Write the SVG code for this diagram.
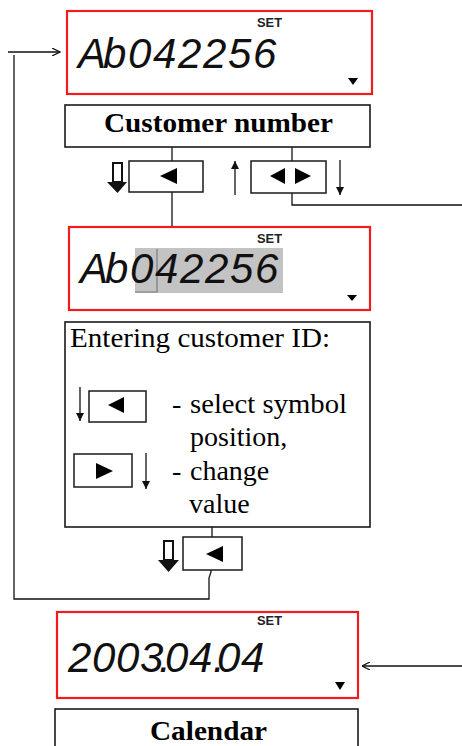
<svg xmlns="http://www.w3.org/2000/svg" width="462" height="746" viewBox="0 0 462 746">
<style>
.lcd{fill:#fff;stroke:#f21c1c;stroke-width:2.2}
.box{fill:#fff;stroke:#1a1a1a;stroke-width:1.6}
.btn{fill:#fff;stroke:#1a1a1a;stroke-width:1.5}
.ln{fill:none;stroke:#111;stroke-width:1.3}
.tri{fill:#000}
.set{font-family:"Liberation Sans",Arial,sans-serif;font-weight:bold;font-size:12px;fill:#222}
.dig{font-family:"Liberation Sans",Arial,sans-serif;font-style:italic;font-size:42px;fill:#111}
.ser{font-family:"Liberation Serif","Times New Roman",serif;font-size:28px;fill:#000}
.bold{font-weight:bold}
</style>
<defs>
<marker id="ah" viewBox="0 0 10 10" refX="10" refY="5" markerWidth="9" markerHeight="8" markerUnits="userSpaceOnUse" orient="auto"><path d="M0,0 L10,5 L0,10 z" fill="#111"/></marker>
<marker id="oh" viewBox="0 0 10 10" refX="10" refY="5" markerWidth="9" markerHeight="8" markerUnits="userSpaceOnUse" orient="auto"><path d="M0,0 L10,5 L0,10" fill="none" stroke="#111" stroke-width="1.5"/></marker>
</defs>

<g id="connectors">
<path class="ln" d="M8,52 H60" marker-end="url(#oh)"/>
<path class="ln" d="M14,55 V599 H209 V578 L211,572 V570"/>
<path class="ln" d="M172,147 V161"/>
<path class="ln" d="M292,147 V161"/>
<path class="ln" d="M172,192 V227"/>
<path class="ln" d="M292,193 V205 H462"/>
<path class="ln" d="M235,195 V161" marker-end="url(#ah)"/>
<path class="ln" d="M340,160 V195" marker-end="url(#ah)"/>
<path class="ln" d="M212,527 V537"/>
<path class="ln" d="M462,666 H362" marker-end="url(#oh)"/>
<path d="M113,163 H122 V182 H113 Z" fill="#fff" stroke="#111" stroke-width="2"/>
<path d="M107,182 H127 L117.5,193 Z" fill="#111"/>
<path d="M164,541 H173 V560 H164 Z" fill="#fff" stroke="#111" stroke-width="2"/>
<path d="M158,560 H179 L168.5,572 Z" fill="#111"/>
</g>

<g id="lcd1">
<rect class="lcd" x="67" y="11" width="305" height="83"/>
<text class="set" x="257" y="27" textLength="25" lengthAdjust="spacingAndGlyphs">SET</text>
<text class="dig" x="78 103 128 153 178 203 228 253" y="68">Ab042256</text>
<path class="tri" d="M348,78 H358 L353,85 Z"/>
</g>

<g id="customer-number">
<rect class="box" x="65" y="105" width="305" height="42"/>
<text class="ser bold" x="104" y="132" textLength="229" lengthAdjust="spacingAndGlyphs">Customer number</text>
</g>

<g id="btn-left">
<rect class="btn" x="129" y="161" width="74" height="31"/>
<path class="tri" d="M160,176 L177,168 V184 Z"/>
</g>

<g id="btn-leftright">
<rect class="btn" x="251" y="161" width="75" height="32"/>
<path class="tri" d="M270,176 L285,168 V184 Z"/>
<path class="tri" d="M311,176 L295,168 V184 Z"/>
</g>

<g id="lcd2">
<rect class="lcd" x="69" y="227" width="301" height="83"/>
<rect x="135" y="248" width="148" height="45" fill="#c3c3c3"/>
<path d="M135,292 H157 V249" fill="none" stroke="#7a7a7a" stroke-width="1.2"/>
<text class="set" x="257" y="243" textLength="25" lengthAdjust="spacingAndGlyphs">SET</text>
<text class="dig" x="80 105 130 155 180 205 230 255" y="283">Ab042256</text>
<path class="tri" d="M347,295 H357 L352,301 Z"/>
</g>

<g id="entering">
<rect class="box" x="65" y="322" width="305" height="205"/>
<text class="ser" x="70" y="347" textLength="260" lengthAdjust="spacingAndGlyphs">Entering customer ID:</text>
<path class="ln" d="M80,387 V421" marker-end="url(#ah)"/>
<rect class="btn" x="89" y="391" width="57" height="31"/>
<path class="tri" d="M108,405 L124,397 V413 Z"/>
<text class="ser" x="172" y="413">-</text>
<text class="ser" x="190" y="413" textLength="157" lengthAdjust="spacingAndGlyphs">select symbol</text>
<text class="ser" x="190" y="446">position,</text>
<rect class="btn" x="74" y="454" width="58" height="33"/>
<path class="tri" d="M113,471 L96,463 V479 Z"/>
<path class="ln" d="M146,453 V489" marker-end="url(#ah)"/>
<text class="ser" x="172" y="480">-</text>
<text class="ser" x="190" y="480">change</text>
<text class="ser" x="189" y="513">value</text>
</g>

<g id="btn-left2">
<rect class="btn" x="183" y="537" width="59" height="33"/>
<path class="tri" d="M206,554 L223,546 V562 Z"/>
</g>

<g id="lcd3">
<rect class="lcd" x="57" y="612" width="301" height="86"/>
<text class="set" x="257" y="625" textLength="25" lengthAdjust="spacingAndGlyphs">SET</text>
<text class="dig" x="68 92 116 140 159 165 189 213 217 241" y="672">2003.04.04</text>
<path class="tri" d="M335,682 H345 L340,690 Z"/>
</g>

<g id="calendar">
<rect class="box" x="55" y="709" width="303" height="60"/>
<text class="ser bold" x="208.5" y="740" text-anchor="middle" textLength="117" lengthAdjust="spacingAndGlyphs">Calendar</text>
</g>
</svg>
